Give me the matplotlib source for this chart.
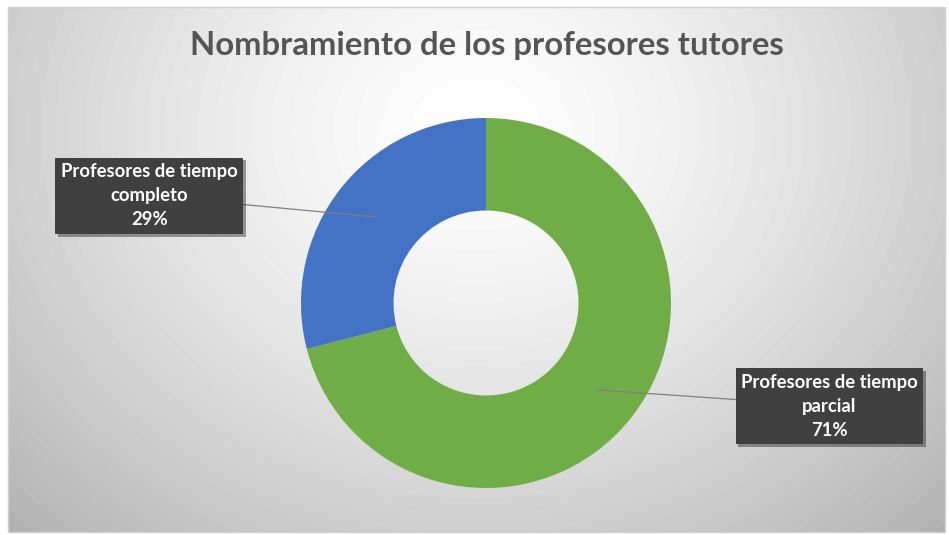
import numpy as np
import matplotlib.pyplot as plt
import matplotlib.patheffects as pe

labels = ["Profesores de tiempo\nparcial", "Profesores de tiempo\ncompleto"]
shares = [71, 29]
colors = ["#70ad47", "#4472c4"]

W, H = 949, 535
fig = plt.figure(figsize=(W / 100, H / 100), dpi=100)
ax = fig.add_axes([0, 0, 1, 1])

# donut centre at pixel (486, 303), radius 185 px -> 1 data unit
cx, cy, rpx = 486, 303, 185

# radial grey background of the chart area
x0, x1, y0, y1 = 8, 945, 7, 532
xx, yy = np.meshgrid(np.arange(x0, x1), np.arange(y0, y1))
r = np.sqrt(((xx - 476) / 520) ** 2 + ((yy - 130) / 440) ** 2)
g = np.clip(255 - 55 * r ** 1.4, 0, 255) / 255
ax.imshow(g, cmap="gray", vmin=0, vmax=1, zorder=0, aspect="auto",
          extent=[(x0 - cx) / rpx, (x1 - cx) / rpx, (cy - y1) / rpx, (cy - y0) / rpx])
ax.add_patch(plt.Rectangle(((x0 - cx) / rpx, (cy - y1) / rpx), (x1 - x0) / rpx, (y1 - y0) / rpx,
                           fill=False, ec="#d0d0d0", lw=1, zorder=1))

wedges, _ = ax.pie(shares, colors=colors, startangle=90, counterclock=False,
                   radius=1, wedgeprops=dict(width=0.5, edgecolor="none"),
                   center=(0, 0), frame=True)
for w in wedges:
    w.set_zorder(2)
ax.set_xlim((0 - cx) / rpx, (W - cx) / rpx)
ax.set_ylim((cy - H) / rpx, cy / rpx)
ax.axis("off")

ax.text((487 - cx) / rpx, (cy - 46) / rpx, "Nombramiento de los profesores tutores",
        ha="center", va="center", fontsize=23.7, fontweight="bold", color="#555555",
        family="Lato", zorder=3)

points = [(0.6, -0.47), (-0.595, 0.465)]
boxes = [(1.857, -0.557), (-1.82, 0.58)]
for lab, s, p, b in zip(labels, shares, points, boxes):
    t = ax.annotate(f"{lab}\n{s}%", xy=p, xytext=b, ha="center", va="center",
                    fontsize=13.3, fontweight="bold", color="white", family="Lato",
                    linespacing=1.5, zorder=4,
                    bbox=dict(boxstyle="square,pad=0.3", fc="#404040", ec="none"),
                    arrowprops=dict(arrowstyle="-", color="#808080", lw=0.9,
                                    shrinkA=0, shrinkB=0))
    t.get_bbox_patch().set_path_effects([pe.SimplePatchShadow(offset=(2, -2), alpha=0.4),
                                         pe.Normal()])

fig.savefig("out.png", dpi=100)
